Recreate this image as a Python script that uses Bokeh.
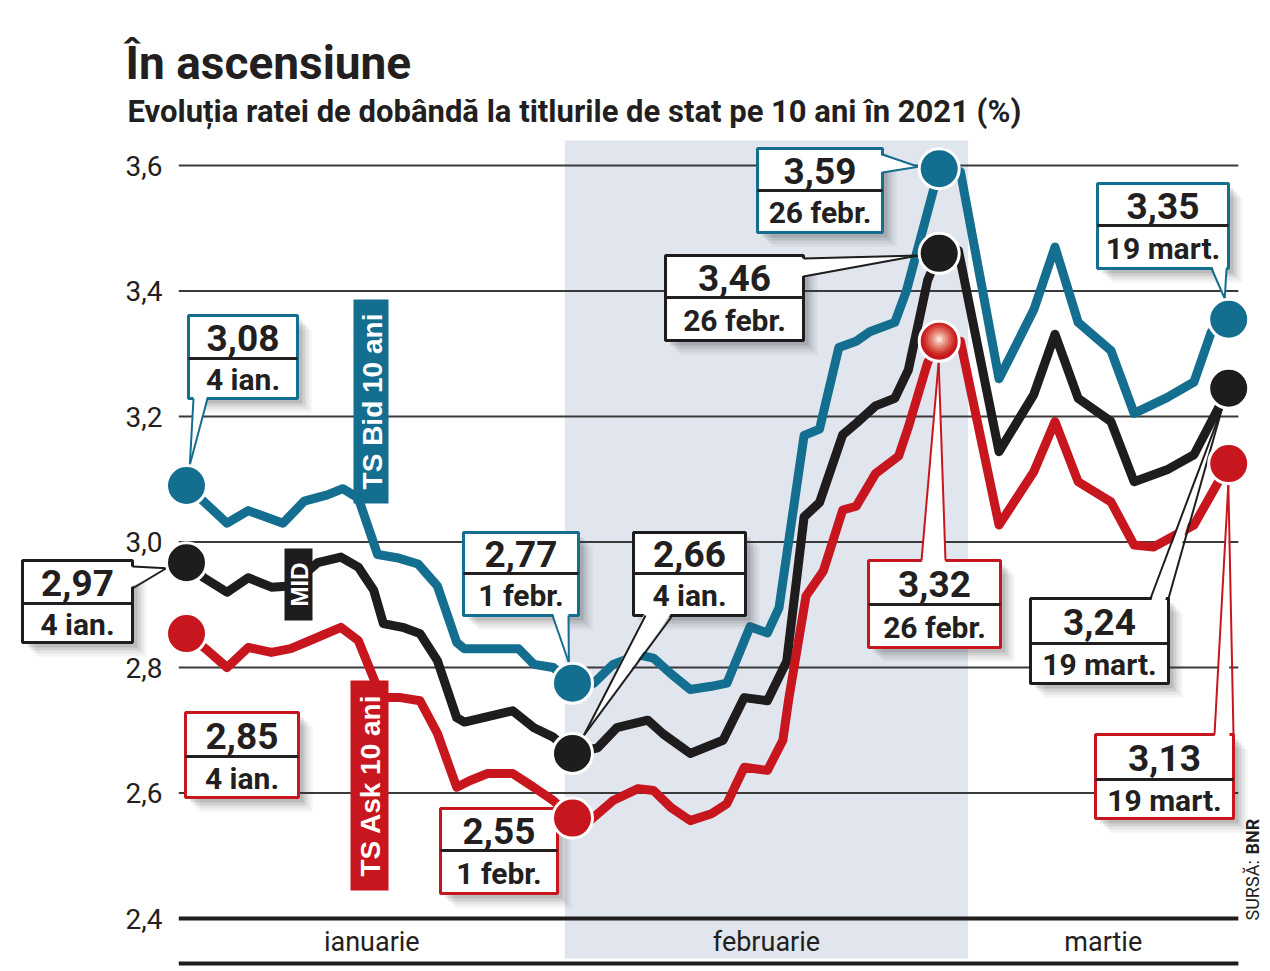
import math
from bokeh.plotting import figure
from bokeh.models import BoxAnnotation, PolyAnnotation, Label
from bokeh.core.properties import value
from bokeh.embed import file_html
from bokeh.resources import INLINE

# ---------------- data ----------------
title = "În ascensiune"
subtitle = "Evoluția ratei de dobândă la titlurile de stat pe 10 ani în 2021 (%)"
source_lbl = "SURSĂ:"
source_name = "BNR"

y_ticks = [2.4, 2.6, 2.8, 3.0, 3.2, 3.4, 3.6]
y_tick_labels = ["2,4", "2,6", "2,8", "3,0", "3,2", "3,4", "3,6"]
months = ["ianuarie", "februarie", "martie"]
# trading-day positions (0 = 4 ian., 20 = 1 febr., 39 = 26 febr., 54 = 19 mart.) bounding each month
month_edges = [-0.4, 19.6, 40.5, 54.5]

# TS Bid 10 ani
bid_day = [0, 2.1, 3.2, 5.0, 6.1, 7.3, 8.1, 8.9, 9.9, 10.9, 12.0, 13.0, 14.0, 14.4, 17.2, 18.0, 19.0, 20,
           21.1, 22.1, 23.4, 24.2, 25.1, 26.1, 27.2, 28.0, 29.2, 30.1, 30.7, 32.0, 32.8, 33.8, 34.7, 35.4, 36.7, 37.3, 39,
           40.1, 42.1, 43.9, 45.0, 46.2, 47.9, 49.1, 50.8, 52.2, 53.1, 54]
bid_val = [3.09, 3.03, 3.05, 3.03, 3.065, 3.075, 3.085, 3.07, 2.98, 2.975, 2.965, 2.93, 2.84, 2.83, 2.83, 2.805, 2.8, 2.775,
           2.775, 2.805, 2.82, 2.815, 2.79, 2.765, 2.77, 2.775, 2.865, 2.855, 2.895, 3.17, 3.18, 3.31, 3.32, 3.335, 3.35, 3.40, 3.595,
           3.59, 3.26, 3.37, 3.47, 3.35, 3.305, 3.205, 3.23, 3.255, 3.335, 3.355]
# MID
mid_day = [0, 0.9, 2.1, 3.2, 4.4, 5.4, 6.8, 8.0, 8.9, 9.7, 10.2, 11.2, 12.1, 13.0, 14.0, 14.4, 16.9, 18.0, 19.0, 20,
           21.3, 22.3, 23.9, 24.7, 26.1, 27.8, 28.9, 30.1, 31.1, 32.0, 32.8, 34.0, 34.7, 35.7, 36.7, 37.4, 38.4, 39,
           40.0, 42.1, 43.9, 45.0, 46.2, 47.9, 49.1, 50.8, 52.2, 54]
mid_val = [2.967, 2.943, 2.92, 2.943, 2.928, 2.93, 2.967, 2.976, 2.96, 2.923, 2.87, 2.864, 2.854, 2.811, 2.72, 2.713, 2.731, 2.704, 2.689, 2.663,
           2.672, 2.704, 2.716, 2.694, 2.663, 2.684, 2.752, 2.747, 2.81, 3.04, 3.063, 3.171, 3.189, 3.217, 3.229, 3.274, 3.417, 3.46,
           3.464, 3.144, 3.235, 3.331, 3.229, 3.192, 3.096, 3.115, 3.139, 3.245]
# TS Ask 10 ani
ask_day = [0, 1.1, 2.1, 3.2, 4.4, 5.4, 6.4, 8.0, 8.9, 10.1, 11.1, 12.1, 13.0, 14.0, 14.7, 15.6, 16.9, 18.0, 19.0, 20,
           20.9, 22.1, 23.4, 24.2, 25.1, 26.1, 27.2, 28.0, 28.9, 30.1, 30.9, 31.2, 32.1, 33.0, 34.0, 34.7, 35.7, 36.9, 37.4, 38.4, 39,
           40.1, 42.1, 43.9, 45.0, 46.2, 47.9, 49.1, 50.1, 52.2, 54]
ask_val = [2.854, 2.827, 2.80, 2.832, 2.824, 2.83, 2.843, 2.864, 2.843, 2.752, 2.752, 2.747, 2.695, 2.609, 2.62, 2.631, 2.631, 2.609, 2.588, 2.56,
           2.556, 2.588, 2.607, 2.604, 2.577, 2.556, 2.567, 2.583, 2.641, 2.636, 2.684, 2.749, 2.914, 2.954, 3.051, 3.057, 3.109, 3.137, 3.183, 3.286, 3.32,
           3.32, 3.027, 3.112, 3.192, 3.096, 3.064, 2.995, 2.992, 3.027, 3.125]

marker_days = [0, 20, 39, 54]
bid_callout = [3.08, 2.77, 3.59, 3.35]
mid_callout = [2.97, 2.66, 3.46, 3.24]
ask_callout = [2.85, 2.55, 3.32, 3.13]
bid_dates = ["4 ian.", "1 febr.", "26 febr.", "19 mart."]
mid_dates = ["4 ian.", "4 ian.", "26 febr.", "19 mart."]
ask_dates = ["4 ian.", "1 febr.", "26 febr.", "19 mart."]
series_tags = ["TS Bid 10 ani", "MID", "TS Ask 10 ani"]

# ---------------- style / layout ----------------
BLUE = "#146e8f"
BLACK = "#1e1c1d"
RED = "#c8161e"
SHADE = "#e1e6ee"
TXT = "#231f20"
GRID = "#3a3a3a"
FONT_N = "Roboto"
FONT_W = "Liberation Sans"

PX0, PXD = 186.0, 19.3
PY0, PYV = 918.0, 627.5


def X(px):
    return (px - PX0) / PXD


def Y(py):
    return 2.4 + (PY0 - py) / PYV


def PX(d):
    return PX0 + d * PXD


def PY(v):
    return PY0 - (v - 2.4) * PYV


p = figure(width=1270, height=971, x_range=(X(0), X(1270)), y_range=(Y(971), Y(0)),
           x_axis_location=None, y_axis_location=None, toolbar_location=None,
           output_backend="svg", min_border_left=0, min_border_right=0,
           min_border_top=0, min_border_bottom=0, outline_line_color=None,
           background_fill_color="white", border_fill_color="white")
p.grid.visible = False

# February band
p.quad(left=[month_edges[1]], right=[month_edges[2]], bottom=[Y(958)], top=[Y(140)],
       fill_color=SHADE, line_color=None)
# grid lines
n = len(y_ticks) - 1
p.segment(x0=[month_edges[0]] * n, x1=[month_edges[-1]] * n, y0=y_ticks[1:], y1=y_ticks[1:],
          line_color=GRID, line_width=2)
p.segment(x0=[month_edges[0]], x1=[month_edges[-1]], y0=[y_ticks[0]], y1=[y_ticks[0]],
          line_color=BLACK, line_width=4)
p.segment(x0=[month_edges[0]], x1=[month_edges[-1]], y0=[Y(963)], y1=[Y(963)],
          line_color=BLACK, line_width=4)
# y tick labels
p.text(x=[X(162)] * len(y_ticks), y=y_ticks, text=y_tick_labels, text_align="right",
       text_baseline="middle", text_font=value(FONT_N), text_font_size="28px", text_color=TXT)
# month labels
centers = [(month_edges[i] + month_edges[i + 1]) / 2 for i in range(3)]
p.text(x=centers, y=[Y(941)] * 3, text=months, text_align="center", text_baseline="middle",
       text_font=value(FONT_N), text_font_size="27px", text_color=TXT)

# lines
series = {
    "bid": (bid_day, bid_val, BLUE, bid_callout, bid_dates),
    "mid": (mid_day, mid_val, BLACK, mid_callout, mid_dates),
    "ask": (ask_day, ask_val, RED, ask_callout, ask_dates),
}
for key in ["bid", "mid", "ask"]:
    d, v, c, _, _ = series[key]
    p.line(d, v, line_color=c, line_width=9, line_join="round", line_cap="round")

marker_pts = {}
for key in ["bid", "mid", "ask"]:
    d, v, c, _, _ = series[key]
    lookup = dict(zip(d, v))
    ys = [lookup[m] for m in marker_days]
    marker_pts[key] = list(zip(marker_days, ys))
    r = p.scatter(marker_days, ys, marker="circle", size=40, fill_color=c,
                  line_color="white", line_width=3)
    r.level = "overlay"

# glossy highlight on the 26 febr. ask marker
gd, gv = marker_pts["ask"][2]
for s, col in zip([33, 28, 23, 18, 13, 8, 4],
                  ["#cc2a25", "#d4463d", "#dd6457", "#e58472", "#eda593", "#f5c6b8", "#fce6df"]):
    r = p.scatter([gd], [gv + 2.0 / PYV], marker="circle", size=s, fill_color=col, line_color=None)
    r.level = "overlay"


# ---------------- annotations ----------------
def box(l, t, r, b, fill, line=None, lw=0, alpha=1.0):
    p.add_layout(BoxAnnotation(left=X(l), right=X(r), top=Y(t), bottom=Y(b),
                               fill_color=fill, fill_alpha=alpha,
                               line_color=line, line_width=lw,
                               line_alpha=1.0 if line else 0.0, line_dash="solid"))


def poly(pts, fill=None, line=None, lw=0):
    p.add_layout(PolyAnnotation(xs=[X(a) for a, _ in pts], ys=[Y(b) for _, b in pts],
                                fill_color=fill if fill else "white", fill_alpha=1.0 if fill else 0.0,
                                line_color=line, line_width=lw,
                                line_alpha=1.0 if line else 0.0, line_dash="solid"))


def label(px, py, text, size, color=TXT, bold=True, font=FONT_N, align="center",
          baseline="middle", angle=0.0):
    p.add_layout(Label(x=X(px), y=Y(py), text=text, text_font=font,
                       text_font_size=f"{size}px",
                       text_font_style="bold" if bold else "normal",
                       text_color=color, text_align=align, text_baseline=baseline,
                       angle=angle))


def fmt(v):
    return f"{v:.2f}".replace(".", ",")


# (series, marker index, (left, top, right, bottom, divider) in px, pointer base points in px)
callouts = [
    ("bid", 0, (188, 315, 297, 398, 358), [(193, 398), (207, 398)]),
    ("bid", 1, (463, 532, 578, 615, 573), [(552, 615), (568, 615)]),
    ("bid", 2, (757, 148, 882, 232, 190), [(882, 154), (882, 172)]),
    ("bid", 3, (1097, 183, 1228, 268, 225), [(1211, 268), (1226, 268)]),
    ("mid", 0, (22, 560, 132, 642, 603), [(132, 566), (132, 588)]),
    ("mid", 1, (633, 532, 745, 615, 573), [(645, 615), (672, 615)]),
    ("mid", 2, (665, 255, 803, 340, 297), [(803, 258), (803, 276)]),
    ("mid", 3, (1030, 598, 1168, 683, 643), [(1150, 598), (1168, 598)]),
    ("ask", 0, (185, 712, 298, 797, 756), None),
    ("ask", 1, (440, 808, 557, 893, 850), None),
    ("ask", 2, (868, 560, 1000, 647, 604), [(921, 560), (945, 560)]),
    ("ask", 3, (1095, 734, 1233, 818, 779), [(1214, 734), (1233, 734)]),
]

for key, idx, (l, t, r, b, dv), base in callouts:
    _, _, col, vals, dates = series[key]
    for off, a in ((14, 0.06), (11, 0.08), (8, 0.11), (5, 0.14)):
        box(l + off, t + off, r + off, b + off, "#3a3a3a", alpha=a)
    box(l, t, r, b, "white", col, 3)
    if base:
        md, mv = marker_pts[key][idx]
        cx, cy = PX(md), PY(mv)
        bx = (base[0][0] + base[1][0]) / 2
        by = (base[0][1] + base[1][1]) / 2
        dx, dy = bx - cx, by - cy
        dist = math.hypot(dx, dy)
        tip = (cx + dx / dist * 21, cy + dy / dist * 21)
        inner = []
        for (qx, qy) in base:
            ix = qx + (4 if abs(qx - l) < 2 else -4 if abs(qx - r) < 2 else 0)
            iy = qy + (4 if abs(qy - t) < 2 else -4 if abs(qy - b) < 2 else 0)
            inner.append((ix, iy))
        poly([inner[0], tip, inner[1]], fill="white")
        poly([base[0], tip], line=col, lw=2)
        poly([base[1], tip], line=col, lw=2)
    box(l, dv - 1.5, r, dv + 1.5, TXT)
    label((l + r) / 2, (t + dv) / 2 + 1, fmt(vals[idx]), 37)
    label((l + r) / 2, (dv + b) / 2 + 1, dates[idx], 30)

# vertical series tags
tag_boxes = [(353, 299, 388, 503, BLUE, 28), (284, 548, 312, 620, BLACK, 24), (350, 680, 388, 890, RED, 28)]
for txt, (l, t, r, b, col, fs) in zip(series_tags, tag_boxes):
    box(l, t, r, b, col)
    label((l + r) / 2 + 1, (t + b) / 2, txt, fs, color="white", font=FONT_W, angle=math.pi / 2)

# titles and source
label(125, 62, title, 46, align="left", baseline="alphabetic")
label(127, 111, subtitle, 31, align="left", baseline="alphabetic")
label(1252, 920, source_lbl, 18, bold=False, align="left", angle=math.pi / 2)
label(1252, 854, source_name, 18, bold=True, align="left", angle=math.pi / 2)

open("out.html", "w").write(file_html(p, INLINE))
